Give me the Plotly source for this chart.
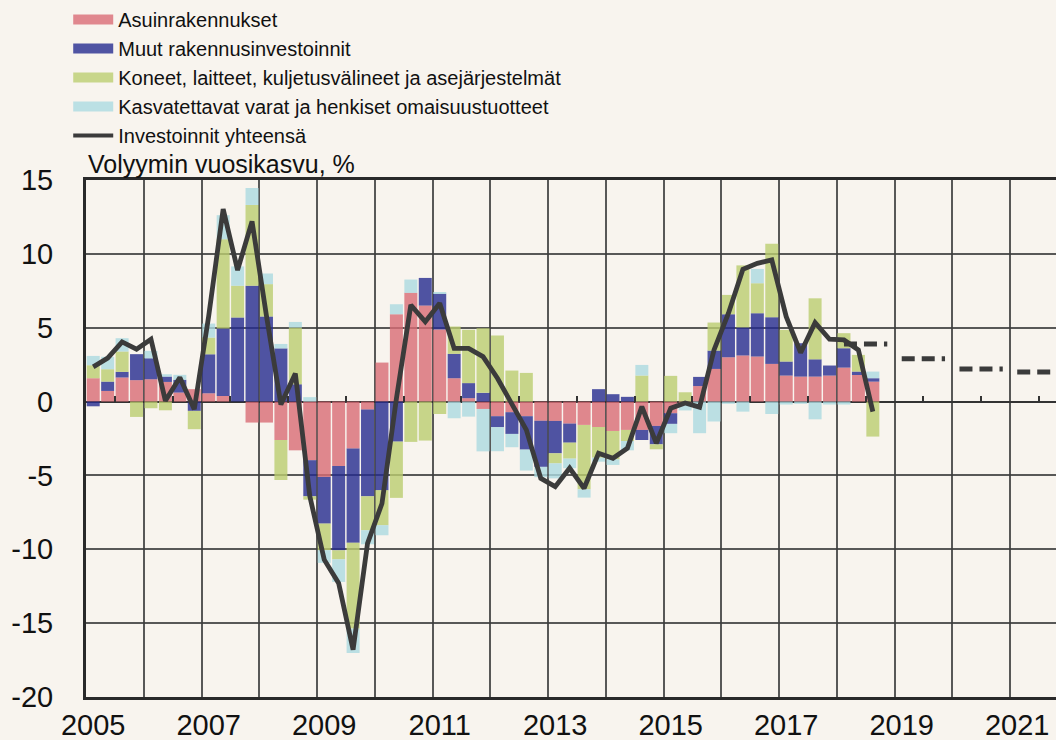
import plotly.graph_objects as go

# ---------------- data (quarterly, 2005Q1 .. 2018Q3) ----------------
start_year = 2005

asuinrakennukset = [
    1.58, 0.72, 1.63, 1.45, 1.51, 1.33, 0.61, 0.84,
    0.56, 0.38, 0.00, -1.42, -1.42, -2.60, -3.30, -3.97,
    -5.10, -4.36, -3.18, -0.54, 2.64, 5.91, 7.36, 6.50,
    4.88, 1.58, 0.23, -0.50, -0.99, -0.72, -0.99, -1.30,
    -1.31, -1.49, -1.58, -1.72, -1.99, -1.92, -1.92, -1.65,
    -0.79, -0.15, 1.05, 2.21, 3.00, 3.12, 3.05, 2.55,
    1.76, 1.69, 1.69, 1.76, 2.30, 1.80, 1.35]

muut_rakennus = [
    -0.32, 0.63, 0.38, 1.76, 1.42, 0.36, 0.86, -0.63,
    2.64, 4.56, 5.69, 7.84, 5.76, 3.60, 1.17, -2.44,
    -3.16, -5.71, -6.37, -5.87, -6.00, -2.71, 0.00, 1.87,
    2.42, 1.65, 1.02, 0.59, -0.74, -1.47, -2.26, -3.12,
    -2.19, -1.29, 0.00, 0.84, 0.50, 0.32, -0.68, -1.24,
    -0.72, 0.00, 0.62, 1.24, 2.91, 1.90, 2.93, 3.16,
    0.95, 2.26, 1.17, 0.68, 1.31, 0.23, 0.23]

koneet = [
    0.88, 0.84, 1.38, -1.04, -0.45, -0.59, 0.00, -1.24,
    1.13, 6.05, 2.15, 5.47, 2.19, -2.71, 3.84, -0.23,
    -1.80, -0.61, -5.82, -2.30, -2.37, -3.81, -2.73, -2.64,
    -0.84, 1.85, 3.61, 4.38, 4.47, 2.10, 1.94, 0.00,
    -0.68, -1.08, -4.36, -2.08, -1.92, -0.75, 1.76, -0.34,
    1.74, 0.63, 0.00, 1.90, 1.31, 4.20, 2.03, 4.97,
    2.14, 0.00, 4.13, 0.00, 1.02, 1.13, -2.37]

kasvatettavat = [
    0.63, 0.84, 0.90, 0.00, 0.50, 0.16, 0.34, 0.00,
    0.95, 1.63, 1.31, 1.15, 0.72, 0.30, 0.38, 0.30,
    -0.86, -1.53, -1.65, -0.95, -0.68, 0.68, 0.90, 0.00,
    0.10, -1.13, -1.02, -2.87, -1.63, -0.90, -1.42, -0.70,
    -1.02, -0.65, -0.56, -0.27, -0.38, -0.63, 0.72, 0.00,
    -0.63, -0.45, -2.14, -1.35, -0.15, -0.68, 0.97, -0.84,
    -0.20, -0.15, -1.20, -0.20, -0.20, 0.00, 0.45]

investoinnit_yht = [
    2.35, 2.94, 4.04, 3.55, 4.22, 0.05, 1.63, -0.52,
    5.80, 13.03, 8.90, 12.20, 5.80, -0.20, 1.90, -6.40,
    -10.70, -12.30, -16.80, -9.60, -6.90, 0.20, 6.54, 5.40,
    6.65, 3.60, 3.60, 3.04, 1.58, -0.10, -1.92, -5.20,
    -5.76, -4.50, -5.87, -3.50, -3.84, -3.16, -0.34, -2.82,
    -0.45, -0.10, -0.38, 3.50, 5.98, 8.96, 9.36, 9.59,
    5.75, 3.31, 5.34, 4.22, 4.17, 3.49, -0.68]

forecast_years = [2018, 2019, 2020, 2021]
forecast_values = [3.9, 2.9, 2.2, 2.0]

label_years = [2005, 2007, 2009, 2011, 2013, 2015, 2017, 2019, 2021]
y_ticks = [15, 10, 5, 0, -5, -10, -15, -20]

series_names = [
    "Asuinrakennukset",
    "Muut rakennusinvestoinnit",
    "Koneet, laitteet, kuljetusvälineet ja asejärjestelmät",
    "Kasvatettavat varat ja henkiset omaisuustuotteet",
]
series_values = [asuinrakennukset, muut_rakennus, koneet, kasvatettavat]
series_colors = ["rgb(218,108,118)", "rgb(38,44,144)", "rgb(188,206,113)", "rgb(172,219,225)"]
swatch_colors = ["rgb(224,135,142)", "rgb(80,84,163)", "rgb(200,214,138)", "rgb(187,224,228)"]

# ---------------- geometry ----------------
W, H = 1056, 740
plot_left, plot_top, plot_bottom = 86, 180, 697
px_per_year = 57.75
x_end = start_year + (W - plot_left) / px_per_year
x_range = [start_year, x_end]

n = len(investoinnit_yht)
xq = [start_year + (i + 0.5) / 4 for i in range(n)]

BG = "#f8f4ee"
LINE_C = "#3b3b3b"
GRID_C = "rgba(60,60,60,0.85)"
FONT = "Liberation Sans, Arial, sans-serif"

fig = go.Figure()

for name, vals, col in zip(series_names, series_values, series_colors):
    fig.add_trace(go.Bar(
        x=xq, y=vals, name=name, marker=dict(color=col, line=dict(width=0)),
        opacity=0.8, showlegend=False, hoverinfo="skip"))

# forecast (annual values repeated over the quarters of each year)
fx, fy = [], []
for yr, v in zip(forecast_years, forecast_values):
    for q in range(4):
        fx.append(yr + (q + 0.5) / 4)
        fy.append(v)
    fx.append(None)
    fy.append(None)
fig.add_trace(go.Scatter(
    x=fx, y=fy, mode="lines", line=dict(color=LINE_C, width=5, dash="13px,7px"),
    showlegend=False, hoverinfo="skip"))

fig.add_trace(go.Scatter(
    x=xq, y=investoinnit_yht, mode="lines", name="Investoinnit yhteensä",
    line=dict(color=LINE_C, width=4.8), showlegend=False))

# legend entries
for name, col in zip(series_names, swatch_colors):
    fig.add_trace(go.Scatter(
        x=[None], y=[None], mode="lines", name=name,
        line=dict(color=col, width=13)))
fig.add_trace(go.Scatter(
    x=[None], y=[None], mode="lines", name="Investoinnit yhteensä",
    line=dict(color=LINE_C, width=4)))

# helper trace for the small ticks on the zero line
fig.add_trace(go.Scatter(x=[], y=[], xaxis="x2", yaxis="y", showlegend=False,
                         hoverinfo="skip"))

fig.update_layout(
    width=W, height=H,
    paper_bgcolor=BG, plot_bgcolor=BG,
    margin=dict(l=plot_left, r=0, t=plot_top, b=H - plot_bottom, pad=0,
                autoexpand=False),
    barmode="relative", bargap=0.1,
    font=dict(family=FONT, color="#111"),
    showlegend=True,
    legend=dict(
        xref="container", yref="container", x=0.0646, y=1.0,
        xanchor="left", yanchor="top", bgcolor="rgba(0,0,0,0)",
        font=dict(size=20, family=FONT, color="#111"),
        itemwidth=40, tracegroupgap=0, traceorder="normal"),
    xaxis=dict(
        range=x_range, tickmode="array",
        tickvals=[yr + 0.125 for yr in label_years],
        ticktext=[str(yr) for yr in label_years],
        tickfont=dict(size=29, family=FONT, color="#111"),
        tickangle=0, ticks="", showgrid=False, zeroline=False,
        showline=True, linecolor="#2a2a2a", linewidth=3, mirror=True,
        minor=dict(tickmode="linear", tick0=start_year, dtick=1,
                   showgrid=True, gridcolor=GRID_C, gridwidth=1.5, ticks=""),
        fixedrange=True),
    xaxis2=dict(
        overlaying="x", range=x_range, anchor="free", position=20 / 35,
        side="top", tickmode="array",
        tickvals=[yr + 0.5 for yr in range(start_year, 2022)],
        ticks="outside", ticklen=6, tickwidth=1.5, tickcolor="#333",
        showticklabels=False, showgrid=False, showline=False, zeroline=False,
        layer="above traces"),
    yaxis=dict(
        range=[-20, 15], tickmode="array", tickvals=y_ticks,
        ticktext=[str(v) for v in y_ticks],
        tickfont=dict(size=29, family=FONT, color="#111"),
        ticks="", ticklabelstandoff=24,
        showgrid=True, gridcolor=GRID_C, gridwidth=1.5,
        zeroline=True, zerolinecolor="#333", zerolinewidth=2,
        showline=True, linecolor="#2a2a2a", linewidth=3,
        fixedrange=True),
)

fig.add_annotation(
    text="Volyymin vuosikasvu, %", xref="paper", yref="paper", x=0, y=1,
    xanchor="left", yanchor="bottom", showarrow=False, xshift=0, yshift=0,
    font=dict(size=25, family=FONT, color="#111"))

fig.write_html(
    "out.html",
    config={"displayModeBar": False},
    post_script="document.body.style.margin='0px';"
                "document.body.style.background='" + BG + "';")
